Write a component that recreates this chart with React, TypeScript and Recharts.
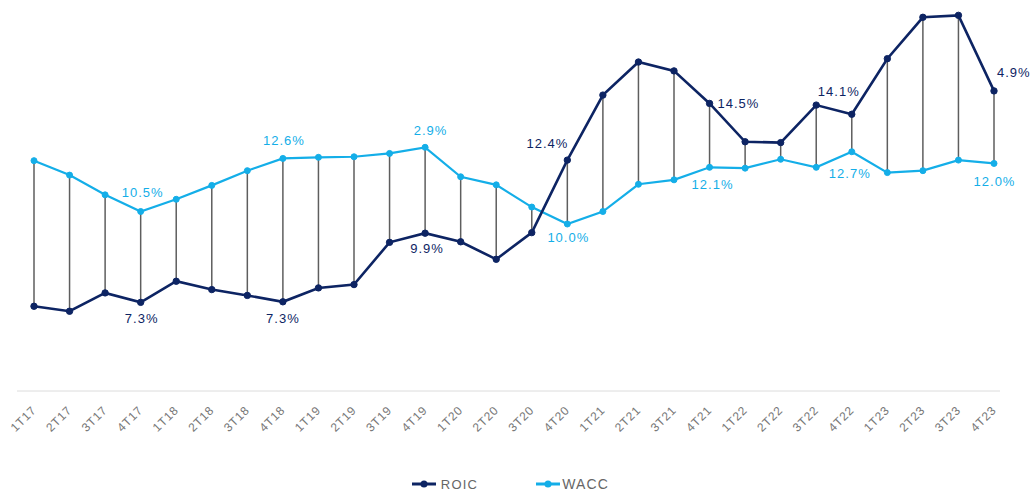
import React from 'react';
import { LineChart, Line, XAxis, YAxis, ErrorBar, LabelList, Legend } from 'recharts';

const quarters = [
  '1T17', '2T17', '3T17', '4T17', '1T18', '2T18', '3T18', '4T18',
  '1T19', '2T19', '3T19', '4T19', '1T20', '2T20', '3T20', '4T20',
  '1T21', '2T21', '3T21', '4T21', '1T22', '2T22', '3T22', '4T22',
  '1T23', '2T23', '3T23', '4T23',
];

const roic = [
  7.15, 6.97, 7.63, 7.29, 8.05, 7.75, 7.54, 7.31,
  7.81, 7.93, 9.45, 9.78, 9.47, 8.84, 9.8, 12.41,
  14.75, 15.94, 15.62, 14.45, 13.07, 13.04, 14.39, 14.06,
  16.06, 17.55, 17.62, 14.9,
];

const wacc = [
  12.39, 11.87, 11.16, 10.56, 11.0, 11.5, 12.03, 12.47,
  12.51, 12.53, 12.65, 12.87, 11.81, 11.52, 10.72, 10.11,
  10.56, 11.54, 11.7, 12.15, 12.12, 12.44, 12.15, 12.71,
  11.96, 12.03, 12.41, 12.29,
];

const roicLabels = [
  '', '', '', '7.3%', '', '', '', '7.3%',
  '', '', '', '9.9%', '', '', '', '12.4%',
  '', '', '', '14.5%', '', '', '', '14.1%',
  '', '', '', '4.9%',
];

const waccLabels = [
  '', '', '', '10.5%', '', '', '', '12.6%',
  '', '', '', '2.9%', '', '', '', '10.0%',
  '', '', '', '12.1%', '', '', '', '12.7%',
  '', '', '', '12.0%',
];

const NAVY = '#0d2463';
const CYAN = '#14aee8';
const FONT = '"Liberation Sans", Arial, sans-serif';

type Place = [number, number, 'start' | 'middle' | 'end'];

const roicPlace: Record<number, Place> = {
  3: [1, 21, 'middle'],
  7: [0, 21, 'middle'],
  11: [2, 20, 'middle'],
  15: [1, -12.5, 'end'],
  19: [8, 4.5, 'start'],
  23: [-13, -18, 'middle'],
  27: [3, -14, 'start'],
};

const waccPlace: Record<number, Place> = {
  3: [2, -14.5, 'middle'],
  7: [1, -13, 'middle'],
  11: [5.5, -12.5, 'middle'],
  15: [1, 18, 'middle'],
  19: [3, 22, 'middle'],
  23: [-2, 26, 'middle'],
  27: [0.5, 23, 'middle'],
};

const data = quarters.map((q, i) => ({
  q,
  roic: roic[i],
  wacc: wacc[i],
  gap: roic[i] >= wacc[i] ? [0, roic[i] - wacc[i]] : [wacc[i] - roic[i], 0],
}));

const makeLabel = (labels: string[], place: Record<number, Place>, color: string) => (props: any) => {
  const { x, y, index } = props;
  const text = labels[index];
  const p = place[index];
  if (!text || !p) return null;
  return (
    <text
      x={x + p[0]}
      y={y + p[1]}
      textAnchor={p[2]}
      fill={color}
      fontSize={13}
      fontFamily={FONT}
      letterSpacing={1}
    >
      {text}
    </text>
  );
};

const Tick = (props: any) => {
  const { x, payload } = props;
  return (
    <g transform={`translate(${x + 3},${411})`}>
      <text
        x={0}
        y={0}
        textAnchor="end"
        transform="rotate(-45)"
        fill="#777"
        fontSize={12}
        fontFamily={FONT}
        letterSpacing={0.8}
      >
        {payload.value}
      </text>
    </g>
  );
};

const LegendContent = () => (
  <div
    style={{
      display: 'flex',
      justifyContent: 'center',
      alignItems: 'center',
      height: 24,
      paddingLeft: 4,
      fontFamily: FONT,
      fontSize: 13,
      letterSpacing: 1.2,
      color: '#666',
    }}
  >
    <span style={{ display: 'flex', alignItems: 'center', marginRight: 58 }}>
      <svg width={24} height={10}>
        <line x1={0} y1={5} x2={24} y2={5} stroke={NAVY} strokeWidth={3} />
        <circle cx={12} cy={5} r={3.5} fill={NAVY} />
      </svg>
      <span style={{ marginLeft: 5 }}>ROIC</span>
    </span>
    <span style={{ display: 'flex', alignItems: 'center' }}>
      <svg width={24} height={10}>
        <line x1={0} y1={5} x2={24} y2={5} stroke={CYAN} strokeWidth={3} />
        <circle cx={12} cy={5} r={3.5} fill={CYAN} />
      </svg>
      <span style={{ marginLeft: 2, fontSize: 14 }}>WACC</span>
    </span>
  </div>
);

export default function App() {
  return (
    <div style={{ position: 'absolute', left: 0, top: 0, background: '#fff' }}>
      <LineChart
        width={1034}
        height={496}
        data={data}
        margin={{ top: 2, right: 34, bottom: 0, left: 17 }}
      >
        <XAxis
          dataKey="q"
          interval={0}
          tickLine={false}
          axisLine={{ stroke: '#dcdcdc' }}
          padding={{ left: 17, right: 6 }}
          height={81}
          tick={<Tick />}
        />
        <YAxis hide domain={[4.1, 18.1]} type="number" />
        <Legend verticalAlign="bottom" content={<LegendContent />} />
        <Line
          dataKey="wacc"
          name="WACC"
          stroke={CYAN}
          strokeWidth={2.2}
          dot={{ r: 3, fill: CYAN, stroke: CYAN, strokeWidth: 1 }}
          isAnimationActive={false}
        >
          <ErrorBar dataKey="gap" width={0} stroke="#5e5e5e" strokeWidth={1.5} direction="y" />
          <LabelList dataKey="wacc" content={makeLabel(waccLabels, waccPlace, CYAN)} />
        </Line>
        <Line
          dataKey="roic"
          name="ROIC"
          stroke={NAVY}
          strokeWidth={2.6}
          dot={{ r: 3.2, fill: NAVY, stroke: NAVY, strokeWidth: 1 }}
          isAnimationActive={false}
        >
          <LabelList dataKey="roic" content={makeLabel(roicLabels, roicPlace, NAVY)} />
        </Line>
      </LineChart>
    </div>
  );
}
